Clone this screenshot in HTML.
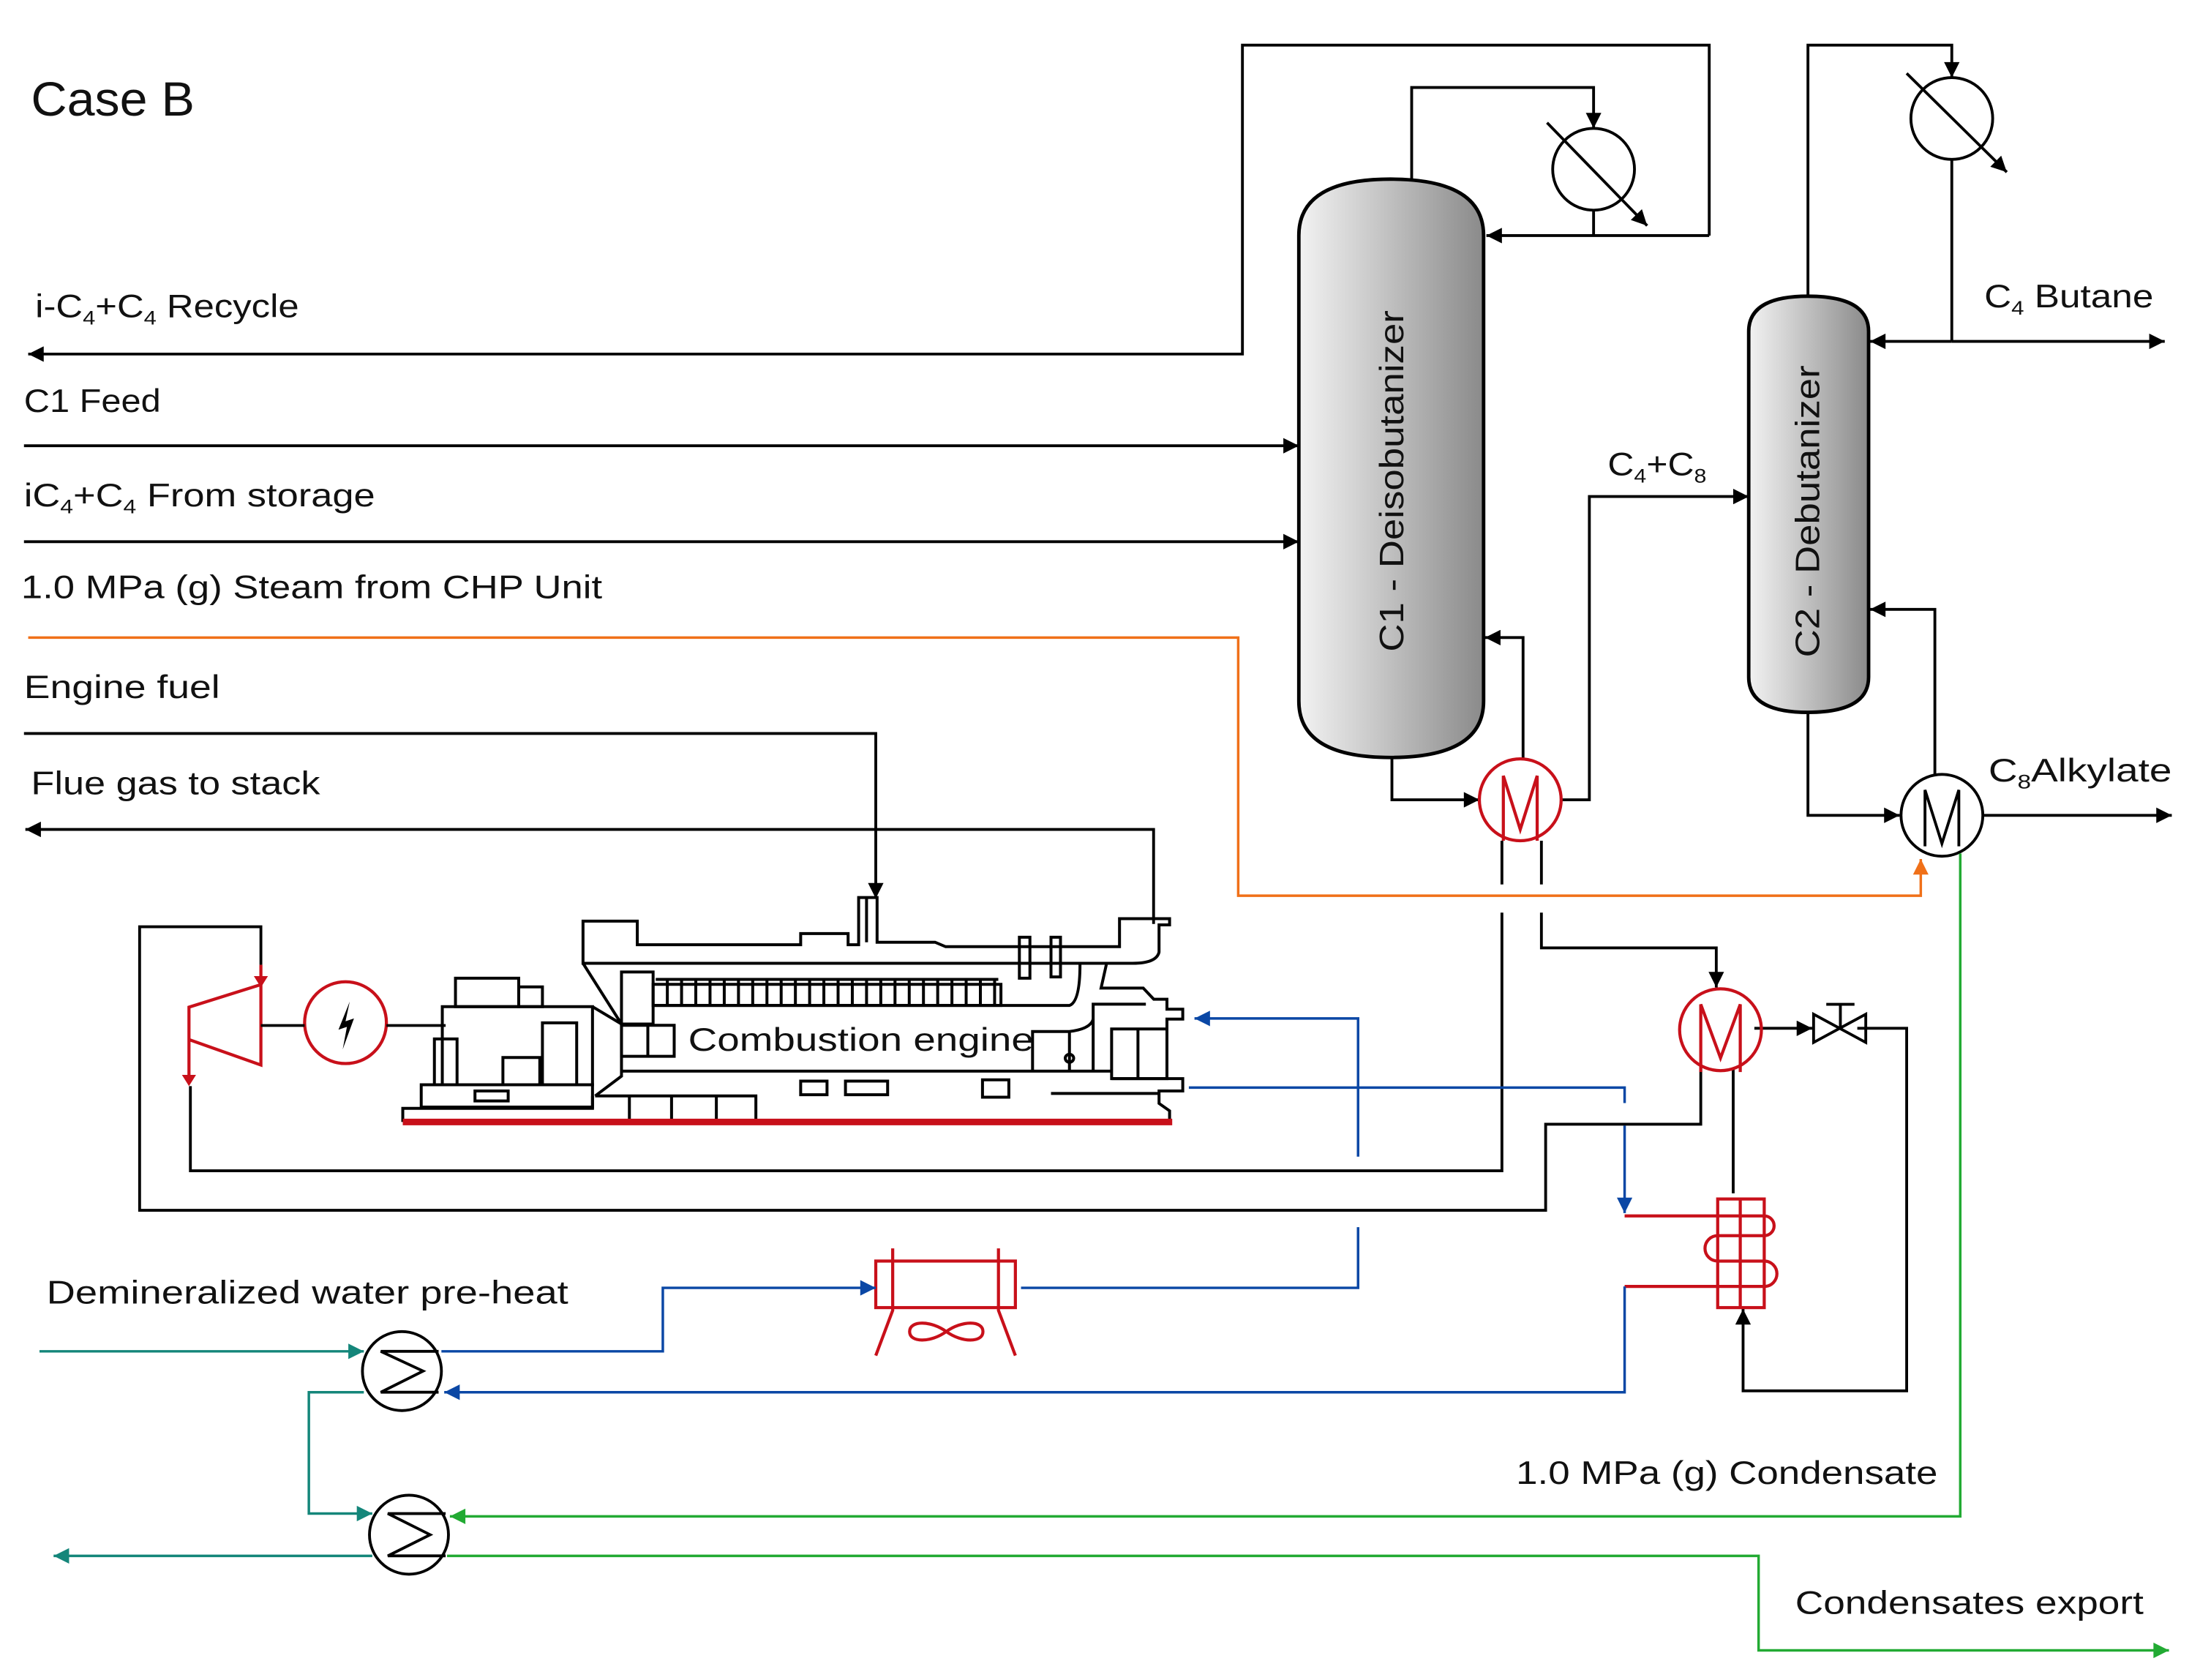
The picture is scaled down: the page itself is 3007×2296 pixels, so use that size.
<!DOCTYPE html>
<html><head><meta charset="utf-8"><style>html,body{margin:0;padding:0;background:#fff}svg{display:block}text{font-family:"Liberation Sans",sans-serif;fill:#111}</style></head>
<body>
<svg width="3007" height="2296" viewBox="0 0 1560 1191" preserveAspectRatio="none" xmlns="http://www.w3.org/2000/svg">
<defs>
<marker id="ak" viewBox="0 0 10 10" refX="10" refY="5" markerWidth="12" markerHeight="11" markerUnits="userSpaceOnUse" orient="auto"><path d="M0,0L10,5L0,10z" fill="#000"/></marker>
<marker id="ab" viewBox="0 0 10 10" refX="10" refY="5" markerWidth="12" markerHeight="11" markerUnits="userSpaceOnUse" orient="auto"><path d="M0,0L10,5L0,10z" fill="#0a47a5"/></marker>
<marker id="at" viewBox="0 0 10 10" refX="10" refY="5" markerWidth="12" markerHeight="11" markerUnits="userSpaceOnUse" orient="auto"><path d="M0,0L10,5L0,10z" fill="#14867a"/></marker>
<marker id="ag" viewBox="0 0 10 10" refX="10" refY="5" markerWidth="12" markerHeight="11" markerUnits="userSpaceOnUse" orient="auto"><path d="M0,0L10,5L0,10z" fill="#22aa33"/></marker>
<marker id="ao" viewBox="0 0 10 10" refX="10" refY="5" markerWidth="12" markerHeight="11" markerUnits="userSpaceOnUse" orient="auto"><path d="M0,0L10,5L0,10z" fill="#f07018"/></marker>
<linearGradient id="gc" x1="0" x2="1" y1="0" y2="0"><stop offset="0" stop-color="#f2f2f2"/><stop offset="0.3" stop-color="#d4d4d4"/><stop offset="1" stop-color="#8a8a8a"/></linearGradient>
</defs>

<text x="22" y="82" font-size="34" textLength="116" lengthAdjust="spacingAndGlyphs">Case B</text>

<g fill="none" stroke="#000" stroke-width="2">
<path d="M1212,167 H1054" marker-end="url(#ak)"/>
<path d="M1212,167 V32 H881 V251 H20" marker-end="url(#ak)"/>
<path d="M1001,128 V62 H1130 V91" marker-end="url(#ak)"/>
<path d="M1130,149 V167"/>
<circle cx="1130" cy="120" r="29"/>
<path d="M1097,87 L1168,160" marker-end="url(#ak)"/>
<path d="M17,316 H921" marker-end="url(#ak)"/>
<path d="M17,384 H921" marker-end="url(#ak)"/>
<path d="M17,520 H621 V637" marker-end="url(#ak)"/>
<path d="M818,655 V588 H18" marker-end="url(#ak)"/>
<path d="M987,537 V567 H1049" marker-end="url(#ak)"/>
<path d="M1080,538 V452 H1053" marker-end="url(#ak)"/>
<path d="M1107,567 H1127 V352 H1240" marker-end="url(#ak)"/>
<path d="M1065,596 V627 M1065,647 V830 H135 V770"/>
<path d="M1093,596 V627 M1093,647 V672 H1217 V700" marker-end="url(#ak)"/>
<path d="M185,684 V657 H99 V858 H1096 V797 H1206 V757"/>
<path d="M1229,757 V846"/>
<path d="M1244,729 H1285" marker-end="url(#ak)"/>
<path d="M1317,729 H1352 V986 H1236 V928" marker-end="url(#ak)"/>
<path d="M1282,210 V32 H1384 V55" marker-end="url(#ak)"/>
<circle cx="1384" cy="84" r="29"/>
<path d="M1352,52 L1423,122" marker-end="url(#ak)"/>
<path d="M1384,113 V242"/>
<path d="M1384,242 H1326" marker-end="url(#ak)"/>
<path d="M1384,242 H1535" marker-end="url(#ak)"/>
<path d="M1282,505 V578 H1347" marker-end="url(#ak)"/>
<path d="M1406,578 H1540" marker-end="url(#ak)"/>
<path d="M1372,549 V432 H1326" marker-end="url(#ak)"/>
<circle cx="1377" cy="578" r="29"/>
<path d="M1365,600 V560 L1377,598 L1389,560 V600"/>
<path d="M1286,719 V739 L1323,719 V739 Z M1305,729 V712 M1295,712 H1315"/>
</g>

<path d="M921,167 Q921,127 986,127 Q1052,127 1052,167 V497 Q1052,537 986,537 Q921,537 921,497 Z" fill="url(#gc)" stroke="#000" stroke-width="2.5"/>
<path d="M1240,235 Q1240,210 1282,210 Q1325,210 1325,235 V480 Q1325,505 1282,505 Q1240,505 1240,480 Z" fill="url(#gc)" stroke="#000" stroke-width="2.5"/>
<text transform="translate(995,462) rotate(-90)" font-size="24" textLength="242" lengthAdjust="spacingAndGlyphs">C1 - Deisobutanizer</text>
<text transform="translate(1290,466) rotate(-90)" font-size="24" textLength="207" lengthAdjust="spacingAndGlyphs">C2 - Debutanizer</text>

<g fill="none" stroke="#c8101a" stroke-width="2.2">
<circle cx="1078" cy="567" r="29"/>
<path d="M1066,596 V550 L1078,588 L1090,550 V596"/>
<circle cx="1220" cy="730" r="29"/>
<path d="M1206,760 V712 L1220,750 L1234,712 V760"/>
<path d="M134,764 V714 L185,698 V755 L134,737"/>
<path d="M185,684 V698"/>
<circle cx="245" cy="725" r="29"/>
<rect x="621" y="894" width="99" height="33"/>
<path d="M633,885 V929 L621,961 M708,885 V929 L720,961"/>
<path d="M671,944 C660,936 645,936 645,944 C645,952 660,952 671,944 C682,936 697,936 697,944 C697,952 682,952 671,944Z"/>
<rect x="1218" y="850" width="33" height="77"/>
<path d="M1234,850 V927"/>
<path d="M1152,862 H1251 A7,7 0 0 1 1251,876 H1218 A9,9 0 0 0 1218,894 H1251 A9,9 0 0 1 1251,912 H1152"/>
</g>
<path d="M180,692 L190,692 L185,700 Z M129,762 L139,762 L134,770 Z" fill="#c8101a"/>
<path d="M248,710 L240,730 L246,728 L243,744 L251,722 L245,724 Z" fill="#000"/>
<g stroke="#000" stroke-width="2"><path d="M185,727 H216 M274,727 H316"/></g>

<path d="M20,452 H878 V635 H1362 V609" fill="none" stroke="#f07018" stroke-width="1.8" marker-end="url(#ao)"/>

<g fill="none" stroke="#0a47a5" stroke-width="1.8">
<path d="M963,820 V722 H847" marker-end="url(#ab)"/>
<path d="M963,870 V913 H724"/>
<path d="M843,771 H1152 V782 M1152,798 V860" marker-end="url(#ab)"/>
<path d="M313,958 H470 V913 H621" marker-end="url(#ab)"/>
<path d="M1152,912 V987 H315" marker-end="url(#ab)"/>
</g>

<g fill="none" stroke="#14867a" stroke-width="1.8">
<path d="M28,958 H258" marker-end="url(#at)"/>
<path d="M258,987 H219 V1073 H264" marker-end="url(#at)"/>
<path d="M264,1103 H38" marker-end="url(#at)"/>
</g>
<g fill="none" stroke="#22aa33" stroke-width="1.8">
<path d="M1390,605 V1075 H319" marker-end="url(#ag)"/>
<path d="M317,1103 H1247 V1170 H1538" marker-end="url(#ag)"/>
</g>

<g fill="none" stroke="#000" stroke-width="2">
<circle cx="285" cy="972" r="28"/>
<path d="M311,958 H270 L300,972 L270,987 H311"/>
<circle cx="290" cy="1088" r="28"/>
<path d="M316,1073 H275 L305,1088 L275,1103 H316"/>
</g>

<g transform="translate(280,632.8) scale(0.3737,0.1758)" fill="none" stroke="#000" stroke-width="4">
<path vector-effect="non-scaling-stroke" d="M357,115 H460 V210 H770 V165 H860 V210 H880 V20 H915 V200 H1025 L1045,218 H1375 V105 H1470 V130 H1450 V240 Q1445,285 1400,285 H357 Z"/>
<path vector-effect="non-scaling-stroke" d="M895,20 V200"/>
<rect vector-effect="non-scaling-stroke" x="1185" y="180" width="20" height="165"/><rect vector-effect="non-scaling-stroke" x="1245" y="180" width="18" height="160"/>
<path vector-effect="non-scaling-stroke" d="M357,285 L430,530 M375,460 L430,530"/>
<rect vector-effect="non-scaling-stroke" x="430" y="320" width="60" height="210"/>
<rect vector-effect="non-scaling-stroke" x="490" y="370" width="660" height="85"/>
<path vector-effect="non-scaling-stroke" d="M517,345V455M544,345V455M571,345V455M598,345V455M625,345V455M652,345V455M679,345V455M706,345V455M733,345V455M760,345V455M787,345V455M814,345V455M841,345V455M868,345V455M895,345V455M922,345V455M949,345V455M976,345V455M1003,345V455M1030,345V455M1057,345V455M1084,345V455M1111,345V455M1138,345V455M495,350H1145"/>
<path vector-effect="non-scaling-stroke" d="M490,455 H1280 Q1300,440 1300,290"/>
<path vector-effect="non-scaling-stroke" d="M1350,290 L1340,385 H1420 L1440,430 H1465 V470 H1495 V510 H1465 V550"/>
<path vector-effect="non-scaling-stroke" d="M1325,720 V450 H1425"/>
<rect vector-effect="non-scaling-stroke" x="1360" y="550" width="105" height="200"/><path vector-effect="non-scaling-stroke" d="M1410,550 V750"/>
<path vector-effect="non-scaling-stroke" d="M1210,720 V560 H1280 Q1320,550 1325,510"/><path vector-effect="non-scaling-stroke" d="M1280,565 V720"/><ellipse vector-effect="non-scaling-stroke" cx="1280" cy="668" rx="8" ry="16"/>
<rect vector-effect="non-scaling-stroke" x="430" y="535" width="100" height="125"/><path vector-effect="non-scaling-stroke" d="M480,535 V660"/>
<path vector-effect="non-scaling-stroke" d="M430,530 V740 L380,820 M430,720 H1360"/>
<path vector-effect="non-scaling-stroke" d="M380,820 H685 V930 M445,820 V930 M525,820 V930 M610,820 V930"/>
<path vector-effect="non-scaling-stroke" d="M1360,750 H1495 V800 H1450 V850 L1470,880 V925 M1245,810 H1450"/>
<rect vector-effect="non-scaling-stroke" x="770" y="760" width="50" height="55"/><rect vector-effect="non-scaling-stroke" x="855" y="760" width="80" height="55"/><rect vector-effect="non-scaling-stroke" x="1115" y="755" width="50" height="70"/>
<rect vector-effect="non-scaling-stroke" x="90" y="460" width="285" height="315"/><rect vector-effect="non-scaling-stroke" x="50" y="775" width="325" height="90"/>
<rect vector-effect="non-scaling-stroke" x="115" y="345" width="120" height="115"/><rect vector-effect="non-scaling-stroke" x="235" y="380" width="45" height="80"/>
<rect vector-effect="non-scaling-stroke" x="75" y="590" width="43" height="185"/><rect vector-effect="non-scaling-stroke" x="205" y="665" width="70" height="110"/><rect vector-effect="non-scaling-stroke" x="280" y="525" width="65" height="250"/>
<rect vector-effect="non-scaling-stroke" x="152" y="800" width="63" height="40"/>
<path vector-effect="non-scaling-stroke" d="M15,925 V870 H375 V820"/>
<path vector-effect="non-scaling-stroke" d="M15,925 H1475" stroke="#c8101a" stroke-width="9"/>
</g>

<g font-size="23">
<text x="25" y="225" textLength="187" lengthAdjust="spacingAndGlyphs">i-C<tspan font-size="14" dy="5">4</tspan><tspan dy="-5">+C</tspan><tspan font-size="14" dy="5">4</tspan><tspan dy="-5"> Recycle</tspan></text>
<text x="17" y="292" textLength="97" lengthAdjust="spacingAndGlyphs">C1 Feed</text>
<text x="17" y="359" textLength="249" lengthAdjust="spacingAndGlyphs">iC<tspan font-size="14" dy="5">4</tspan><tspan dy="-5">+C</tspan><tspan font-size="14" dy="5">4</tspan><tspan dy="-5"> From storage</tspan></text>
<text x="15" y="424" textLength="412" lengthAdjust="spacingAndGlyphs">1.0 MPa (g)  Steam from CHP Unit</text>
<text x="17" y="495" textLength="139" lengthAdjust="spacingAndGlyphs">Engine fuel</text>
<text x="22" y="563" textLength="205" lengthAdjust="spacingAndGlyphs">Flue gas to stack</text>
<text x="488" y="745" textLength="245" lengthAdjust="spacingAndGlyphs">Combustion engine</text>
<text x="33" y="924" textLength="370" lengthAdjust="spacingAndGlyphs">Demineralized water pre-heat</text>
<text x="1075" y="1052" textLength="299" lengthAdjust="spacingAndGlyphs">1.0 MPa (g)  Condensate</text>
<text x="1273" y="1144" textLength="247" lengthAdjust="spacingAndGlyphs">Condensates export</text>
<text x="1407" y="218" textLength="120" lengthAdjust="spacingAndGlyphs">C<tspan font-size="14" dy="5">4</tspan><tspan dy="-5"> Butane</tspan></text>
<text x="1410" y="554" textLength="130" lengthAdjust="spacingAndGlyphs">C<tspan font-size="14" dy="5">8</tspan><tspan dy="-5">Alkylate</tspan></text>
<text x="1140" y="337" textLength="70" lengthAdjust="spacingAndGlyphs">C<tspan font-size="14" dy="5">4</tspan><tspan dy="-5">+C</tspan><tspan font-size="14" dy="5">8</tspan></text>
</g>
</svg>
</body></html>
